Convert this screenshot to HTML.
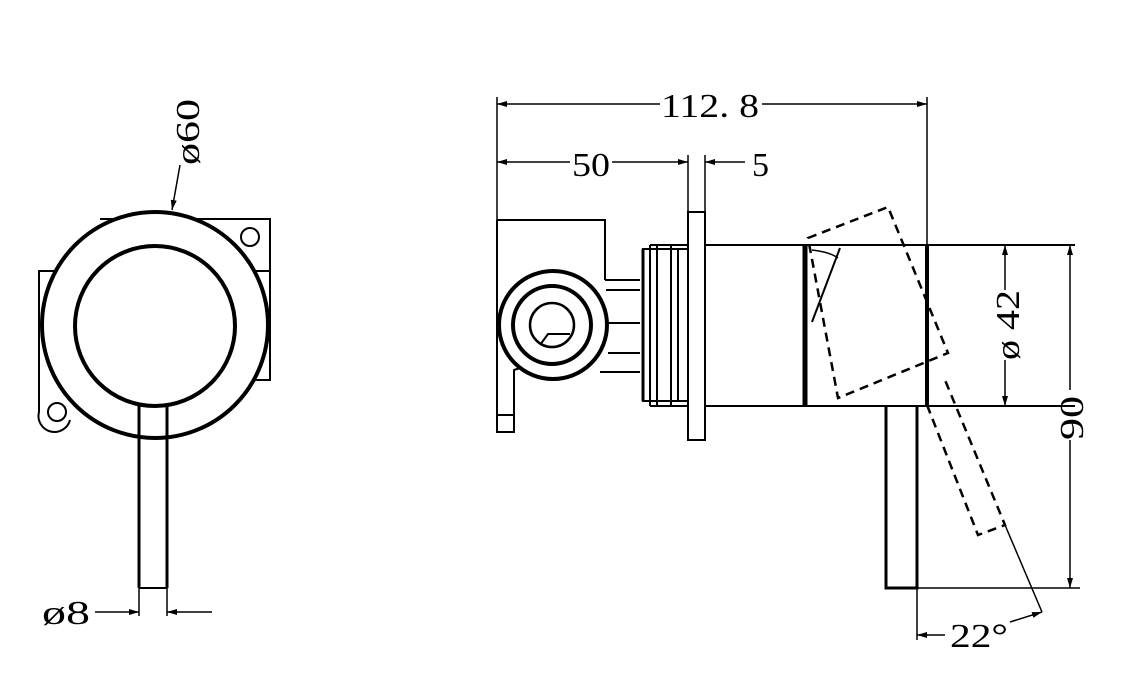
<!DOCTYPE html>
<html><head><meta charset="utf-8"><style>
html,body{margin:0;padding:0;background:#fff;}
svg{display:block;}
text{font-family:"Liberation Serif",serif;fill:#000;}
</style></head><body>
<svg width="1133" height="700" viewBox="0 0 1133 700" xmlns="http://www.w3.org/2000/svg">
<defs>
<marker id="a" viewBox="0 0 10 6" refX="10" refY="3" markerWidth="10" markerHeight="6" orient="auto-start-reverse" markerUnits="userSpaceOnUse"><path d="M0,0 L10,3 L0,6 z" fill="#000"/></marker>
</defs>
<g fill="none" stroke="#000" stroke-width="2">
<!-- LEFT VIEW -->
<path d="M100,219 H270 V380 H255" />
<path d="M270,271 H255" />
<path d="M55,271 H39 V412 A16,16 0 0 0 70,420" />
<circle cx="250" cy="237" r="9"/>
<circle cx="57" cy="412" r="9"/>
<circle cx="155" cy="325" r="113" stroke-width="4" fill="#fff"/>
<circle cx="155" cy="326" r="80" stroke-width="4"/>
<path d="M139,405 V588 M167,405 V588" stroke-width="3"/>
<path d="M139,588 V616 M167,588 V616" stroke-width="1.5"/>
<path d="M139,588 H167" stroke-width="2"/>
<path d="M95,612 H139" stroke-width="1.5" marker-end="url(#a)"/>
<path d="M212,612 H167" stroke-width="1.5" marker-end="url(#a)"/>
<path d="M180,165 L172,210" stroke-width="1.5" marker-end="url(#a)"/>

<!-- RIGHT VIEW dimensions -->
<path d="M497,97 V220 M927,97 V245" stroke-width="1.5"/>
<path d="M660,104 H497" stroke-width="1.5" marker-end="url(#a)"/>
<path d="M762,104 H927" stroke-width="1.5" marker-end="url(#a)"/>
<path d="M570,162 H497" stroke-width="1.5" marker-end="url(#a)"/>
<path d="M612,162 H688" stroke-width="1.5" marker-end="url(#a)"/>
<path d="M745,162 H705" stroke-width="1.5" marker-end="url(#a)"/>
<path d="M688,155 V212 M705,155 V212" stroke-width="1.5"/>

<!-- back box -->
<path d="M497,220 H605 V280" />
<path d="M497,220 V432 H514 V370 L520,368" />
<path d="M497,415 H514" />
<!-- pipe ring -->
<circle cx="553" cy="325" r="54" stroke-width="4" fill="#fff"/>
<circle cx="552" cy="325" r="39" stroke-width="4"/>
<circle cx="552" cy="325" r="22" stroke-width="2.5"/>
<path d="M540,345 L548,334 H570" stroke-width="2"/>
<path d="M605,280 H640 M606,290 H640 M608,323 H640 M608,353 H640 M600,372 H640"/>
<!-- nut rings -->
<rect x="643" y="249" width="45" height="152"/>
<path d="M650,245 V406 M657,245 V406 M671,245 V406 M678,249 V401 M650,245 H688 M650,406 H688" />
<path d="M643,249 V401" stroke-width="3"/>
<!-- flange -->
<rect x="688" y="212" width="17" height="228" fill="#fff"/>
<!-- body -->
<path d="M705,245 H1075 M705,406 H1075" />
<path d="M805,245 V406" stroke-width="5"/>
<path d="M927,245 V406" stroke-width="4"/>
<path d="M840,248 L812,322" stroke-width="2"/>
<path d="M812,250 Q830,252 838,258" stroke-width="1.5"/>
<!-- dashed rotated handle -->
<path d="M808,238 L888,207 L948,353 L838,398 Z" stroke-width="2.5" stroke-dasharray="9,6"/>
<path d="M927,405 L978,535 L1005,525 L945,380" stroke-width="2.5" stroke-dasharray="9,6"/>
<path d="M1005,525 L1042,612" stroke-width="1.5"/>
<!-- stem -->
<path d="M886,406 V588 H917 V406" stroke-width="3"/>
<path d="M917,588 V640" stroke-width="1.5"/>
<path d="M917,588 H1080" stroke-width="1.5"/>
<!-- phi42 -->
<path d="M1005,290 V245" stroke-width="1.5" marker-end="url(#a)"/>
<path d="M1005,360 V406" stroke-width="1.5" marker-end="url(#a)"/>
<!-- 90 -->
<path d="M1070,390 V245" stroke-width="1.5" marker-end="url(#a)"/>
<path d="M1070,440 V588" stroke-width="1.5" marker-end="url(#a)"/>
<!-- 22 deg -->
<path d="M945,635 H917" stroke-width="1.5" marker-end="url(#a)"/>
<path d="M1010,622 L1042,612" stroke-width="1.5" marker-end="url(#a)"/>
</g>
<g font-size="34">
<text x="661" y="117" textLength="98" lengthAdjust="spacingAndGlyphs">112. 8</text>
<text x="572" y="176" textLength="38" lengthAdjust="spacingAndGlyphs">50</text>
<text x="752" y="176">5</text>
<text x="42" y="624" textLength="48" lengthAdjust="spacingAndGlyphs">ø8</text>
<text x="950" y="647" textLength="58" lengthAdjust="spacingAndGlyphs">22°</text>
<text transform="translate(199,165) rotate(-90)" textLength="66" lengthAdjust="spacingAndGlyphs">ø60</text>
<text transform="translate(1019,360) rotate(-90)" textLength="70" lengthAdjust="spacingAndGlyphs">ø 42</text>
<text transform="translate(1083,440) rotate(-90)" textLength="44" lengthAdjust="spacingAndGlyphs">90</text>
</g>
</svg>
</body></html>
